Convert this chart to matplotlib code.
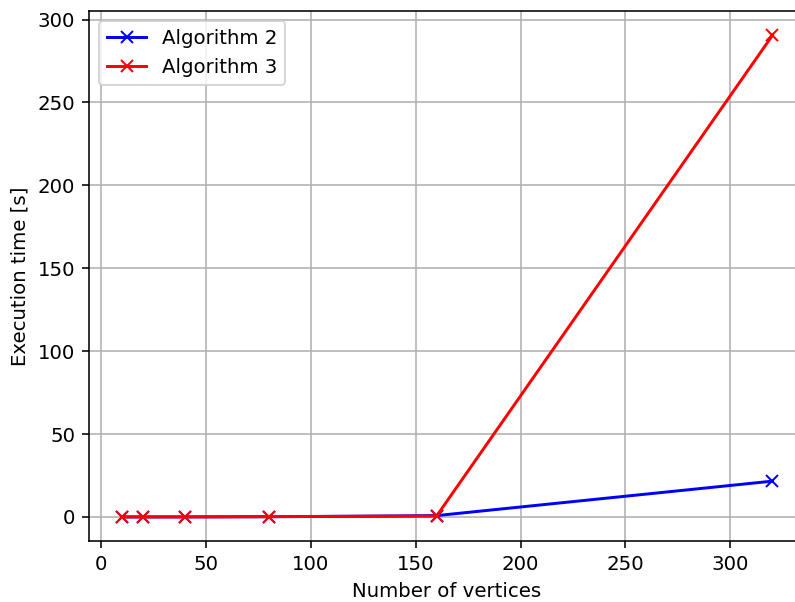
import matplotlib.pyplot as plt

vertices = [10, 20, 40, 80, 160, 320]
alg2_time = [0.001, 0.003, 0.01, 0.1, 0.8, 21.6]
alg3_time = [0.001, 0.004, 0.02, 0.2, 0.5, 290.5]

dpi = 142
fig = plt.figure(figsize=(795 / dpi, 602 / dpi), dpi=dpi)
# axes runs a bit past the right edge of the image, as in the original
ax = fig.add_axes([0.112, 0.1013, 0.9006, 0.880])
ax.plot(vertices, alg2_time, label='Algorithm 2', color='blue', marker='x')
ax.plot(vertices, alg3_time, label='Algorithm 3', color='red', marker='x')
ax.set_xlabel('Number of vertices')
ax.set_ylabel('Execution time [s]')
ax.set_xticks([0, 50, 100, 150, 200, 250, 300])
ax.set_yticks([0, 50, 100, 150, 200, 250, 300])
ax.grid(True)
ax.legend(loc='upper left')
fig.savefig('out.png', dpi=dpi)
